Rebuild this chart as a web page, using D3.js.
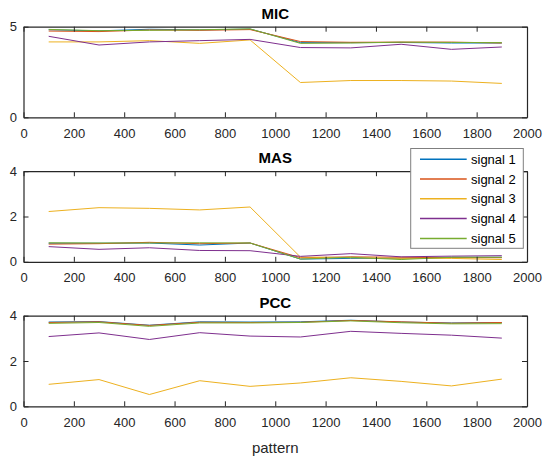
<!DOCTYPE html>
<html><head><meta charset="utf-8">
<script src="https://cdn.jsdelivr.net/npm/d3@7"></script>
<style>body{margin:0;background:#fff}svg{display:block}text{font-family:"Liberation Sans",Arial,sans-serif}</style>
</head><body><svg id="c" width="543" height="461"></svg>
<script>
const patterns = [100,300,500,700,900,1100,1300,1500,1700,1900];
const seriesNames = ["signal 1","signal 2","signal 3","signal 4","signal 5"];
const colors = ["#0072BD","#D95319","#EDB120","#7E2F8E","#77AC30"];
const xTicks = [0,200,400,600,800,1000,1200,1400,1600,1800,2000];

const micS1 = [4.83,4.77,4.86,4.82,4.87,4.12,4.12,4.13,4.10,4.10];
const micS2 = [4.76,4.73,4.82,4.80,4.84,4.18,4.14,4.15,4.15,4.10];
const micS3 = [4.16,4.16,4.23,4.08,4.27,1.92,2.03,2.03,2.00,1.87];
const micS4 = [4.47,3.99,4.16,4.23,4.30,3.85,3.83,4.03,3.75,3.88];
const micS5 = [4.85,4.78,4.80,4.83,4.88,4.08,4.10,4.15,4.13,4.12];
const micTicks = [0,5];

const masS1 = [0.82,0.82,0.83,0.74,0.83,0.12,0.15,0.15,0.20,0.20];
const masS2 = [0.78,0.80,0.86,0.80,0.83,0.18,0.22,0.20,0.18,0.18];
const masS3 = [2.22,2.39,2.36,2.29,2.42,0.21,0.18,0.15,0.15,0.10];
const masS4 = [0.67,0.55,0.62,0.50,0.49,0.24,0.36,0.22,0.25,0.27];
const masS5 = [0.84,0.83,0.83,0.84,0.83,0.12,0.20,0.10,0.20,0.20];
const masTicks = [0,2,4];

const pccS1 = [3.72,3.74,3.58,3.73,3.72,3.73,3.80,3.72,3.68,3.70];
const pccS2 = [3.70,3.73,3.57,3.71,3.70,3.71,3.79,3.73,3.67,3.70];
const pccS3 = [0.97,1.18,0.52,1.13,0.88,1.03,1.26,1.10,0.90,1.20];
const pccS4 = [3.08,3.24,2.95,3.25,3.10,3.06,3.31,3.22,3.14,3.01];
const pccS5 = [3.66,3.70,3.53,3.68,3.68,3.70,3.77,3.69,3.64,3.65];
const pccTicks = [0,2,4];

const panels = [
  {title:"MIC", ymax:5, ticks:micTicks, series:[micS1,micS2,micS3,micS4,micS5]},
  {title:"MAS", ymax:4, ticks:masTicks, series:[masS1,masS2,masS3,masS4,masS5]},
  {title:"PCC", ymax:4, ticks:pccTicks, series:[pccS1,pccS2,pccS3,pccS4,pccS5]}
];

const svg = d3.select("#c");
const L = 23.5, R = 527, H = 90.6, tops = [26.7, 171.2, 315.7];
const axisColor = "#262626";
const x = d3.scaleLinear().domain([0,2000]).range([L,R]);

panels.forEach((p,i)=>{
  const top = tops[i], bot = top + H;
  const y = d3.scaleLinear().domain([0,p.ymax]).range([bot, top]);
  const g = svg.append("g");
  // data lines
  p.series.forEach((s,k)=>{
    g.append("path").datum(s)
      .attr("fill","none").attr("stroke",colors[k]).attr("stroke-width",1)
      .attr("d", d3.line().x((d,j)=>x(patterns[j])).y(d=>y(d)));
  });
  // axes
  const styleAxis = (sel, showLabels) => {
    sel.selectAll("path.domain").attr("stroke",axisColor).attr("stroke-width",1.2);
    sel.selectAll(".tick line").attr("stroke",axisColor).attr("stroke-width",1);
    sel.selectAll(".tick text").attr("fill",axisColor).style("font-size","13px")
      .style("font-family",'"Liberation Sans",Arial,sans-serif');
    if(!showLabels) sel.selectAll(".tick text").remove();
  };
  const xb = g.append("g").attr("transform",`translate(0,${bot})`)
    .call(d3.axisBottom(x).tickValues(xTicks).tickSizeInner(-5).tickSizeOuter(0).tickPadding(10).tickFormat(d3.format("d")));
  styleAxis(xb,true);
  xb.selectAll(".tick text").attr("dy","0.71em").attr("y",11);
  const xt = g.append("g").attr("transform",`translate(0,${top})`)
    .call(d3.axisTop(x).tickValues(xTicks).tickSizeInner(-5).tickSizeOuter(0));
  styleAxis(xt,false);
  const yl = g.append("g").attr("transform",`translate(${L},0)`)
    .call(d3.axisLeft(y).tickValues(p.ticks).tickSizeInner(-5).tickSizeOuter(0).tickPadding(0).tickFormat(d3.format("d")));
  styleAxis(yl,true);
  yl.selectAll(".tick text").attr("x",-6.5);
  const yr = g.append("g").attr("transform",`translate(${R},0)`)
    .call(d3.axisRight(y).tickValues(p.ticks).tickSizeInner(-5).tickSizeOuter(0));
  styleAxis(yr,false);
  // title
  svg.append("text").attr("x",(L+R)/2).attr("y",top-8)
    .attr("text-anchor","middle").attr("font-weight","bold").attr("font-size","15px")
    .attr("fill","#000").text(p.title);
});

// x label
svg.append("text").attr("x",(L+R)/2).attr("y",453).attr("text-anchor","middle")
  .attr("font-size","15px").attr("fill",axisColor).text("pattern");

// legend
const lg = svg.append("g");
lg.append("rect").attr("x",410.7).attr("y",148.5).attr("width",112.6).attr("height",99.8)
  .attr("fill","#fff").attr("stroke","#7f7f7f").attr("stroke-width",1);
seriesNames.forEach((n,k)=>{
  const yy = 159.2 + k*19.8;
  lg.append("line").attr("x1",420).attr("x2",466.7).attr("y1",yy).attr("y2",yy)
    .attr("stroke",colors[k]).attr("stroke-width",1.5);
  lg.append("text").attr("x",471).attr("y",yy).attr("dy","0.35em")
    .attr("font-size","13px").attr("fill","#000").text(n);
});
</script></body></html>
